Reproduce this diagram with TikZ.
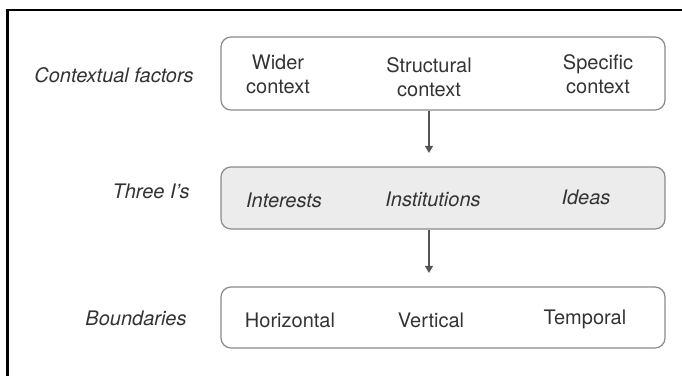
\documentclass[tikz,border=0pt]{standalone}
\usepackage{fontspec}
\setmainfont{TeX Gyre Heros}
\usetikzlibrary{arrows.meta}
\definecolor{txtgray}{HTML}{333333}
\definecolor{linegray}{HTML}{8A8A8A}
\definecolor{boxfill}{HTML}{ECECEC}
\definecolor{arrgray}{HTML}{555555}
\begin{document}
\begin{tikzpicture}
          [x=.5pt,y=-.5pt,every node/.style={inner sep=0pt,text=txtgray,font=\fontsize{10}{12}\selectfont},
           band/.style={draw=linegray,line width=.6pt,rounded corners=5pt,minimum width=222pt},
           rowlbl/.style={anchor=east,font=\fontsize{10}{12}\selectfont\itshape},
           arr/.style={draw=arrgray,line width=.6pt,-{Triangle[length=3.5pt,width=4pt]},shorten >=6.75pt}]
          \useasboundingbox (0,0) rectangle (682,376);
          \draw[line width=1.3pt] (682,10) -- (7.5,10) -- (7.5,376);

          \node[band,minimum height=36.5pt] (ctx) at (443,73.5) {};
          \node[band,fill=boxfill,minimum height=31pt] (three) at (443,198) {};
          \node[band,minimum height=30.5pt] (bnd) at (443,317.5) {};

          \node[rowlbl] (lctx) at (194,75) {Contextual factors};
          \node[rowlbl] (lthree) at (190,191) {Three I's};
          \node[rowlbl] (lbnd) at (187,318) {Boundaries};

          \node[align=center] (wc) at (278,74) {Wider\\context};
          \node[align=center] (sc) at (429,77) {Structural\\context};
          \node[align=center] (pc) at (598,74) {Specific\\context};

          \node[font=\fontsize{10}{12}\selectfont\itshape] (int) at (284,200) {Interests};
          \node[font=\fontsize{10}{12}\selectfont\itshape] (ins) at (433,199) {Institutions};
          \node[font=\fontsize{10}{12}\selectfont\itshape] (ide) at (586,197) {Ideas};

          \node (hor) at (290,320) {Horizontal};
          \node (ver) at (431,320) {Vertical};
          \node (tem) at (585,319) {Temporal};

          \foreach \from/\to in {ctx/three,three/bnd}
            \draw[arr] (\from.south -| sc) -- (\to.north -| sc);

        \end{tikzpicture}
\end{document}
